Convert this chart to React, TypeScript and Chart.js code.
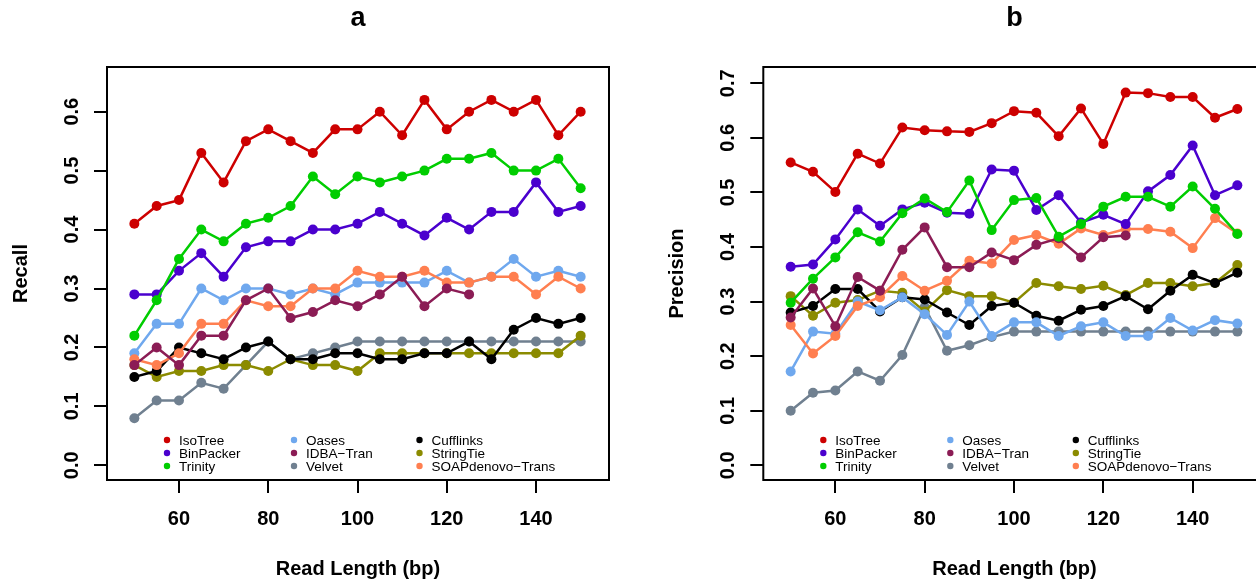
import React, { useEffect, useRef } from "react";
import { Chart, registerables } from "chart.js";
Chart.register(...registerables);

// ---------- data ----------
const readLength = [50, 55, 60, 65, 70, 75, 80, 85, 90, 95, 100, 105, 110, 115, 120, 125, 130, 135, 140, 145, 150];

const recallIsoTree = [0.41, 0.44, 0.45, 0.53, 0.48, 0.55, 0.57, 0.55, 0.53, 0.57, 0.57, 0.60, 0.56, 0.62, 0.57, 0.60, 0.62, 0.60, 0.62, 0.56, 0.60];
const recallBinPacker = [0.29, 0.29, 0.33, 0.36, 0.32, 0.37, 0.38, 0.38, 0.40, 0.40, 0.41, 0.43, 0.41, 0.39, 0.42, 0.40, 0.43, 0.43, 0.48, 0.43, 0.44];
const recallTrinity = [0.22, 0.28, 0.35, 0.40, 0.38, 0.41, 0.42, 0.44, 0.49, 0.46, 0.49, 0.48, 0.49, 0.50, 0.52, 0.52, 0.53, 0.50, 0.50, 0.52, 0.47];
const recallOases = [0.19, 0.24, 0.24, 0.30, 0.28, 0.30, 0.30, 0.29, 0.30, 0.29, 0.31, 0.31, 0.31, 0.31, 0.33, 0.31, 0.32, 0.35, 0.32, 0.33, 0.32];
const recallIDBA = [0.17, 0.20, 0.17, 0.22, 0.22, 0.28, 0.30, 0.25, 0.26, 0.28, 0.27, 0.29, 0.32, 0.27, 0.30, 0.29, null, null, null, null, null];
const recallVelvet = [0.08, 0.11, 0.11, 0.14, 0.13, 0.17, 0.21, 0.18, 0.19, 0.20, 0.21, 0.21, 0.21, 0.21, 0.21, 0.21, 0.21, 0.21, 0.21, 0.21, 0.21];
const recallCufflinks = [0.15, 0.16, 0.20, 0.19, 0.18, 0.20, 0.21, 0.18, 0.18, 0.19, 0.19, 0.18, 0.18, 0.19, 0.19, 0.21, 0.18, 0.23, 0.25, 0.24, 0.25];
const recallStringTie = [0.17, 0.15, 0.16, 0.16, 0.17, 0.17, 0.16, 0.18, 0.17, 0.17, 0.16, 0.19, 0.19, 0.19, 0.19, 0.19, 0.19, 0.19, 0.19, 0.19, 0.22];
const recallSOAP = [0.18, 0.17, 0.19, 0.24, 0.24, 0.28, 0.27, 0.27, 0.30, 0.30, 0.33, 0.32, 0.32, 0.33, 0.31, 0.31, 0.32, 0.32, 0.29, 0.32, 0.30];

const precisionIsoTree = [0.555, 0.538, 0.501, 0.571, 0.553, 0.619, 0.614, 0.612, 0.611, 0.627, 0.649, 0.646, 0.603, 0.654, 0.589, 0.683, 0.682, 0.675, 0.675, 0.637, 0.653];
const precisionBinPacker = [0.364, 0.368, 0.414, 0.469, 0.439, 0.469, 0.481, 0.463, 0.461, 0.542, 0.540, 0.468, 0.495, 0.445, 0.459, 0.442, 0.502, 0.532, 0.586, 0.495, 0.513];
const precisionTrinity = [0.298, 0.342, 0.381, 0.427, 0.410, 0.462, 0.489, 0.464, 0.522, 0.431, 0.486, 0.490, 0.419, 0.442, 0.474, 0.492, 0.492, 0.474, 0.511, 0.470, 0.424];
const precisionOases = [0.172, 0.245, 0.241, 0.300, 0.284, 0.308, 0.277, 0.239, 0.300, 0.237, 0.262, 0.262, 0.237, 0.255, 0.262, 0.237, 0.237, 0.270, 0.247, 0.266, 0.260];
const precisionIDBA = [0.271, 0.324, 0.255, 0.345, 0.320, 0.395, 0.436, 0.363, 0.363, 0.390, 0.376, 0.404, 0.416, 0.381, 0.418, 0.421, null, null, null, null, null];
const precisionVelvet = [0.100, 0.133, 0.137, 0.172, 0.155, 0.202, 0.290, 0.210, 0.220, 0.235, 0.245, 0.245, 0.245, 0.245, 0.245, 0.245, 0.245, 0.245, 0.245, 0.245, 0.245];
const precisionCufflinks = [0.280, 0.292, 0.323, 0.323, 0.282, 0.308, 0.304, 0.280, 0.257, 0.292, 0.298, 0.274, 0.265, 0.285, 0.292, 0.310, 0.286, 0.320, 0.349, 0.334, 0.353];
const precisionStringTie = [0.310, 0.274, 0.298, 0.303, 0.320, 0.316, 0.282, 0.321, 0.310, 0.310, 0.298, 0.334, 0.328, 0.323, 0.329, 0.312, 0.334, 0.334, 0.328, 0.334, 0.367];
const precisionSOAP = [0.257, 0.205, 0.237, 0.292, 0.308, 0.347, 0.320, 0.338, 0.375, 0.370, 0.413, 0.422, 0.406, 0.434, 0.422, 0.433, 0.433, 0.428, 0.398, 0.453, 0.425];

const seriesNames = ["IsoTree", "BinPacker", "Trinity", "Oases", "IDBA\u2212Tran", "Velvet", "Cufflinks", "StringTie", "SOAPdenovo\u2212Trans"];
const seriesColors = ["#CD0000", "#4A00CE", "#00CD00", "#6FA8EE", "#8B1C55", "#708090", "#000000", "#8B8B00", "#FF7F50"];
// dataset index order: first is drawn on top
const drawOrder = [0, 2, 1, 4, 8, 3, 6, 7, 5];

const recallSeries = [recallIsoTree, recallBinPacker, recallTrinity, recallOases, recallIDBA, recallVelvet, recallCufflinks, recallStringTie, recallSOAP];
const precisionSeries = [precisionIsoTree, precisionBinPacker, precisionTrinity, precisionOases, precisionIDBA, precisionVelvet, precisionCufflinks, precisionStringTie, precisionSOAP];

const xTicks = [60, 80, 100, 120, 140];
const recallTicks = [0, 0.1, 0.2, 0.3, 0.4, 0.5, 0.6];
const precisionTicks = [0, 0.1, 0.2, 0.3, 0.4, 0.5, 0.6, 0.7];

const FONT = '"Liberation Sans", Arial, Helvetica, sans-serif';

type PanelCfg = {
  title: string;
  yTitle: string;
  series: (number | null)[][];
  yTicks: number[];
  yMin: number;
  yMax: number;
  yAxisWidth: number;
  padRight: number;
  width: number;
};

function makePlugin(cfg: PanelCfg) {
  return {
    id: "panelDecor",
    afterDraw(chart: any) {
      const { ctx, chartArea: a, scales } = chart;
      ctx.save();
      // frame
      ctx.strokeStyle = "#000";
      ctx.lineWidth = 2;
      ctx.strokeRect(a.left, a.top, a.right - a.left, a.bottom - a.top);
      ctx.fillStyle = "#000";
      // title
      ctx.font = `bold 27px ${FONT}`;
      ctx.textAlign = "center";
      ctx.textBaseline = "alphabetic";
      ctx.fillText(cfg.title, (a.left + a.right) / 2, 26);
      // x title
      ctx.font = `bold 20px ${FONT}`;
      ctx.fillText("Read Length (bp)", (a.left + a.right) / 2, 575);
      // y title
      ctx.save();
      ctx.translate(a.left - 80, (a.top + a.bottom) / 2);
      ctx.rotate(-Math.PI / 2);
      ctx.fillText(cfg.yTitle, 0, 0);
      ctx.restore();
      // y tick labels (rotated, as in R)
      ctx.font = `bold 20px ${FONT}`;
      for (const v of cfg.yTicks) {
        const y = scales.y.getPixelForValue(v);
        ctx.save();
        ctx.translate(a.left - 29, y);
        ctx.rotate(-Math.PI / 2);
        ctx.fillText(v.toFixed(1), 0, 0);
        ctx.restore();
      }
      // legend
      const colDot = [60, 187, 312.5];
      const rowY = [-40, -27, -14];
      ctx.font = `13.5px ${FONT}`;
      ctx.textAlign = "left";
      seriesNames.forEach((name, i) => {
        const c = Math.floor(i / 3);
        const r = i % 3;
        const x = a.left + colDot[c];
        const y = a.bottom + rowY[r];
        ctx.fillStyle = seriesColors[i];
        ctx.beginPath();
        ctx.arc(x, y, 3.2, 0, Math.PI * 2);
        ctx.fill();
        ctx.fillStyle = "#000";
        ctx.fillText(name, x + 12, y + 5);
      });
      ctx.restore();
    },
  };
}

function Panel({ cfg, left }: { cfg: PanelCfg; left: number }) {
  const ref = useRef<HTMLCanvasElement>(null);
  useEffect(() => {
    if (!ref.current) return;
    const datasets = drawOrder.map((i) => ({
      label: seriesNames[i],
      data: readLength.map((x, k) => ({ x, y: cfg.series[i][k] })),
      borderColor: seriesColors[i],
      backgroundColor: seriesColors[i],
      pointBackgroundColor: seriesColors[i],
      pointBorderWidth: 0,
      pointRadius: 5,
      borderWidth: 2.5,
      tension: 0,
      spanGaps: false,
    }));
    const chart = new Chart(ref.current, {
      type: "line",
      data: { datasets },
      options: {
        animation: false,
        responsive: false,
        devicePixelRatio: 1,
        events: [],
        layout: { autoPadding: false, padding: { left: 0, top: 67, right: cfg.padRight, bottom: 0 } },
        plugins: { legend: { display: false }, tooltip: { enabled: false }, title: { display: false } },
        scales: {
          x: {
            type: "linear",
            min: 43.87,
            max: 156.35,
            afterBuildTicks: (s: any) => {
              s.ticks = xTicks.map((v) => ({ value: v }));
            },
            afterFit: (s: any) => {
              s.height = 104;
            },
            grid: { display: true, drawOnChartArea: false, drawTicks: true, tickLength: 13, color: "#000", lineWidth: 2 },
            border: { display: false },
            ticks: {
              color: "#000",
              font: { family: FONT, size: 20, weight: "bold" },
              padding: 14,
              maxRotation: 0,
              minRotation: 0,
              autoSkip: false,
              callback: (v: any) => String(v),
            },
          },
          y: {
            type: "linear",
            min: cfg.yMin,
            max: cfg.yMax,
            afterBuildTicks: (s: any) => {
              s.ticks = cfg.yTicks.map((v) => ({ value: v }));
            },
            afterFit: (s: any) => {
              s.width = cfg.yAxisWidth;
            },
            grid: { display: true, drawOnChartArea: false, drawTicks: true, tickLength: 13, color: "#000", lineWidth: 2 },
            border: { display: false },
            ticks: { display: false },
          },
        },
      },
      plugins: [makePlugin(cfg)],
    } as any);
    return () => chart.destroy();
  }, [cfg]);
  return (
    <canvas
      ref={ref}
      width={cfg.width}
      height={584}
      style={{ position: "absolute", left, top: 0, width: cfg.width, height: 584 }}
    />
  );
}

const panelA: PanelCfg = {
  title: "a",
  yTitle: "Recall",
  series: recallSeries,
  yTicks: recallTicks,
  yMin: -0.0249,
  yMax: 0.6758,
  yAxisWidth: 107,
  padRight: 19,
  width: 628,
};

const panelB: PanelCfg = {
  title: "b",
  yTitle: "Precision",
  series: precisionSeries,
  yTicks: precisionTicks,
  yMin: -0.0269,
  yMax: 0.7299,
  yAxisWidth: 135.3,
  padRight: 8.3,
  width: 646,
};

export default function App() {
  return (
    <div
      style={{
        position: "absolute",
        left: 0,
        top: 0,
        width: 1256,
        height: 584,
        overflow: "hidden",
        background: "#fff",
      }}
    >
      <Panel cfg={panelA} left={0} />
      <Panel cfg={panelB} left={628} />
    </div>
  );
}
